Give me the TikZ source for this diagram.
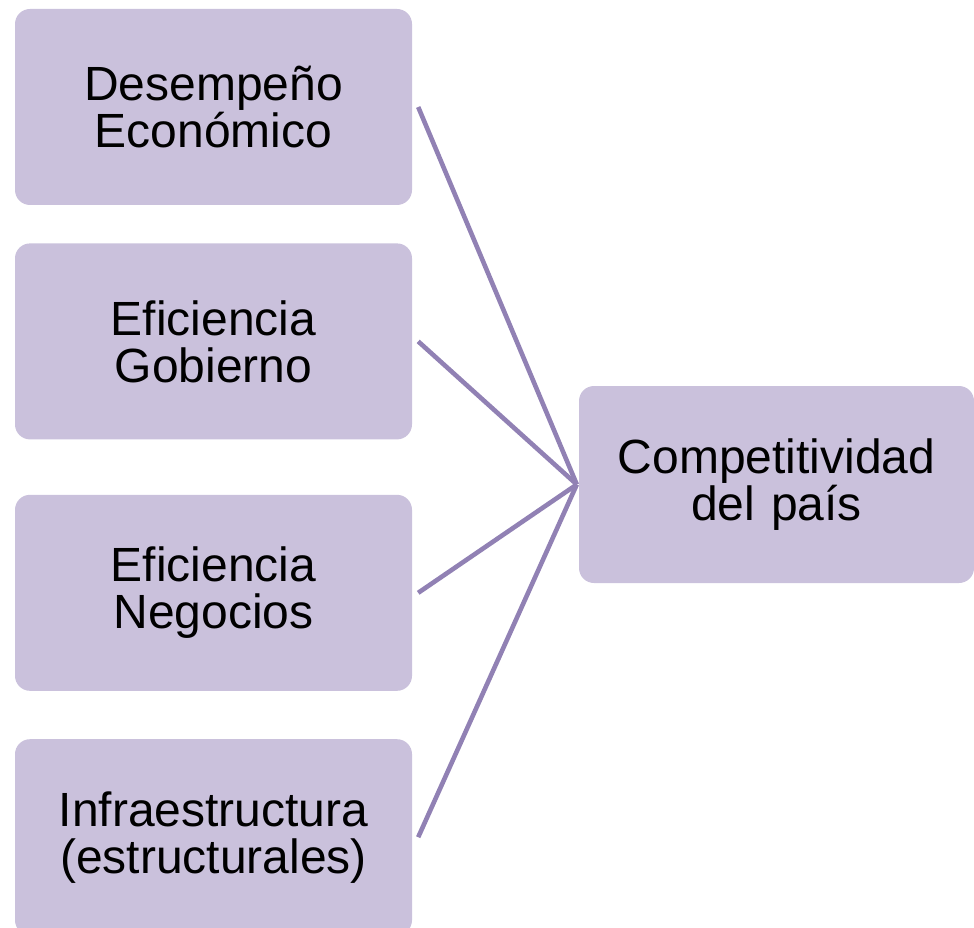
\documentclass[tikz,border=0pt]{standalone}
\usepackage{fontspec}
\setmainfont{Liberation Sans}
\usepackage{xcolor}
\usetikzlibrary{positioning}

\definecolor{factorfill}{RGB}{202,193,220}
\definecolor{linkline}{RGB}{145,129,180}

\begin{document}
\begin{tikzpicture}[x=1pt, y=-1pt,
        factor/.style={fill=factorfill, rounded corners=15pt, minimum width=397pt, minimum height=196pt,
            text width=385pt, align=center, inner sep=0pt, font=\fontsize{48}{47}\selectfont},
        link/.style={draw=linkline, line width=4.6pt}]
        \useasboundingbox (0,0) rectangle (974,928);
        % the four factors
        \node[factor] (desempeno) at (213.5,107) {Desempeño\\Económico};
        \node[factor, below=38pt of desempeno] (gobierno) {Eficiencia\\Gobierno};
        \node[factor, below=55pt of gobierno] (negocios) {Eficiencia\\Negocios};
        \node[factor, below=48pt of negocios] (infra) {Infraestructura\\(estructurales)};
        % result
        \node[factor, minimum width=395pt, minimum height=197pt] (pais) at (776.5,484.5) {Competitividad\\del país};
        \foreach \f in {desempeno,gobierno,negocios,infra}
            \draw[link] ([xshift=6pt]\f.east) -- ([xshift=-2pt]pais.west);
    \end{tikzpicture}
\end{document}
